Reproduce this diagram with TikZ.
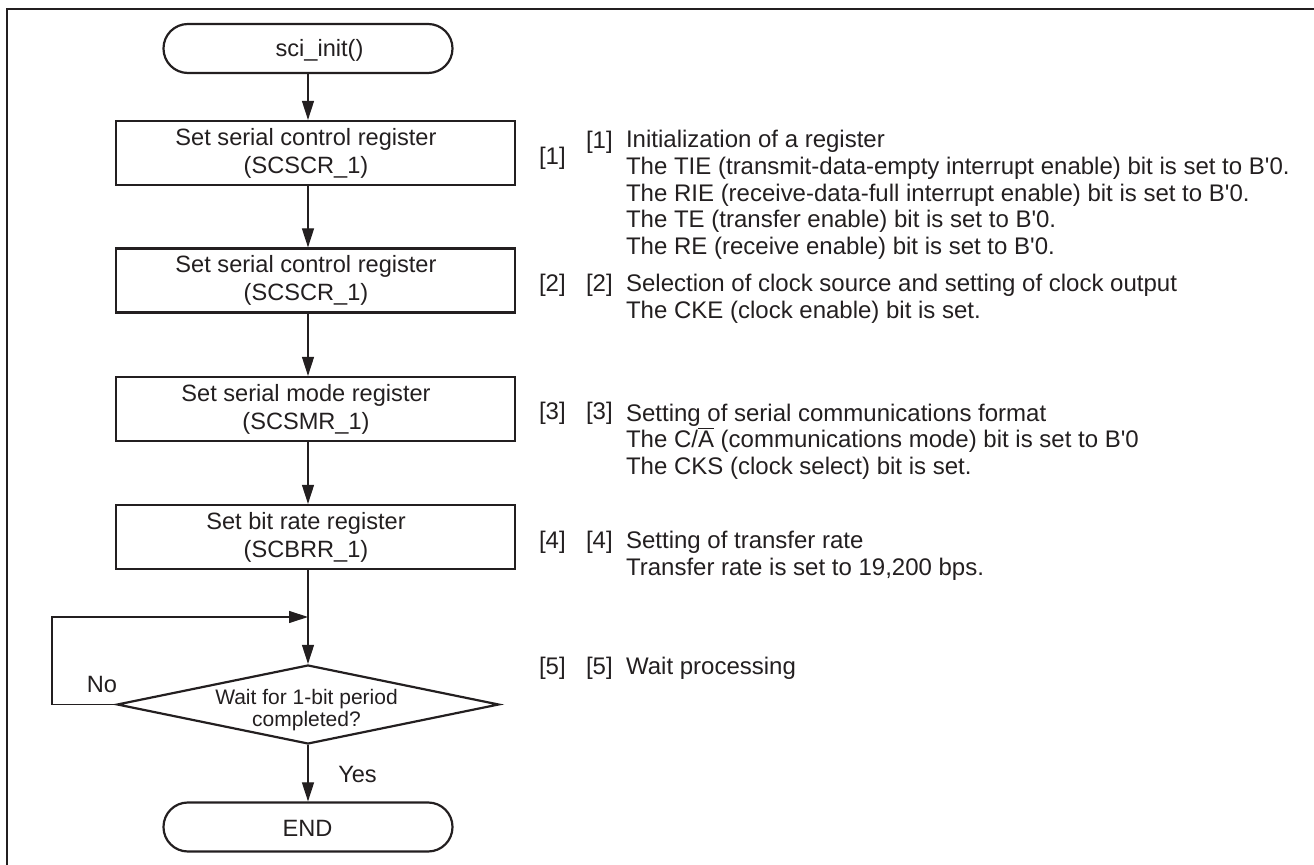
\documentclass[tikz,border=0pt]{standalone}
\usepackage{fontspec}
\setmainfont{Liberation Sans}
\usetikzlibrary{arrows.meta,shapes.geometric}
\definecolor{ink}{RGB}{35,31,32}
\newcommand{\aq}{\textquotesingle}
\begin{document}
\begin{tikzpicture}[x=0.5pt,y=-0.5pt,
  every node/.style={text=ink, font=\fontsize{11.8}{14}\selectfont},
  term/.style={draw=ink, line width=1.1pt, rounded corners=12.2pt, minimum width=144.5pt, minimum height=24.5pt, inner sep=0pt},
  proc/.style={draw=ink, line width=1.1pt, minimum width=199.5pt, minimum height=32pt, inner sep=0pt},
  ptext/.style={align=center, inner sep=0pt},
  dec/.style={draw=ink, line width=1.1pt, shape=diamond, aspect=4.8, minimum width=191pt, minimum height=39.5pt, inner sep=0pt},
  dtext/.style={align=center, inner sep=0pt, font=\fontsize{10.5}{10.8}\selectfont},
  arr/.style={draw=ink, line width=0.6pt, -{Triangle[length=9.5pt,width=6pt]}},
  note/.style={anchor=west, align=left, font=\fontsize{12}{13.35}\selectfont},
  tag/.style={anchor=west, font=\fontsize{12}{13.35}\selectfont}]
\useasboundingbox (0,0) rectangle (1314,865);
\draw[ink, line width=1.3pt] (7,865) -- (7,9) -- (1314,9);

% flow shapes
\node[term] (start) at (308,48.5) {};
\node[proc] (b1) at (315.5,153) {};
\node[proc] (b2) at (315.5,280.5) {};
\node[proc] (b3) at (315.5,409) {};
\node[proc] (b4) at (315.5,537) {};
\node[dec] (d) at (308,704.5) {};
\node[term] (end) at (308,827) {};

% texts in shapes
\node[ptext] (startt) at (319.5,50) {sci\_init()};
\node[ptext] (b1t) at (306,153) {Set serial control register\\(SCSCR\_1)};
\node[ptext] (b2t) at (306,280.5) {Set serial control register\\(SCSCR\_1)};
\node[ptext] (b3t) at (306,409) {Set serial mode register\\(SCSMR\_1)};
\node[ptext] (b4t) at (306,537) {Set bit rate register\\(SCBRR\_1)};
\node[dtext] (dt) at (306.5,710) {Wait for 1-bit period\\completed?};
\node[ptext] (endt) at (307.5,828) {END};

\coordinate (ax) at (308,0);
\coordinate (j) at (308,617);
\coordinate (lp) at (52,617);

\draw[arr] (start.south) -- (ax |- b1.north);
\draw[arr] (ax |- b1.south) -- (ax |- b2.north);
\draw[arr] (ax |- b2.south) -- (ax |- b3.north);
\draw[arr] (ax |- b3.south) -- (ax |- b4.north);
\draw[arr] (ax |- b4.south) -- (d.north);
\draw[arr] (d.west) -| (lp) -- (j);
\draw[arr] (d.south) -- (end.north);

\node (no) at (102,685) {No};
\node (yes) at (357.5,775) {Yes};

% step tags
\node[tag] (s1) at (532,158) {[1]};
\node[tag] (s2) at (532,285) {[2]};
\node[tag] (s3) at (532,413) {[3]};
\node[tag] (s4) at (532,542) {[4]};
\node[tag] (s5) at (532,668) {[5]};

\node[tag] (r1) at (579,142) {[1]};
\node[tag] (r2) at (579,285) {[2]};
\node[tag] (r3) at (579,413) {[3]};
\node[tag] (r4) at (579,542) {[4]};
\node[tag] (r5) at (579,668) {[5]};

\node[note] (t1) at (619,195) {Initialization of a register\\
The TIE (transmit-data-empty interrupt enable) bit is set to B\aq0.\\
The RIE (receive-data-full interrupt enable) bit is set to B\aq0.\\
The TE (transfer enable) bit is set to B\aq0.\\
The RE (receive enable) bit is set to B\aq0.};
\node[note] (t2) at (619,298.5) {Selection of clock source and setting of clock output\\
The CKE (clock enable) bit is set.};
\node[note] (t3) at (619,441.5) {Setting of serial communications format\\
The C/$\overline{\mbox{A}}$ (communications mode) bit is set to B\aq0\\
The CKS (clock select) bit is set.};
\node[note] (t4) at (619,556) {Setting of transfer rate\\
Transfer rate is set to 19,200 bps.};
\node[note] (t5) at (619,668) {Wait processing};
\end{tikzpicture}
\end{document}
